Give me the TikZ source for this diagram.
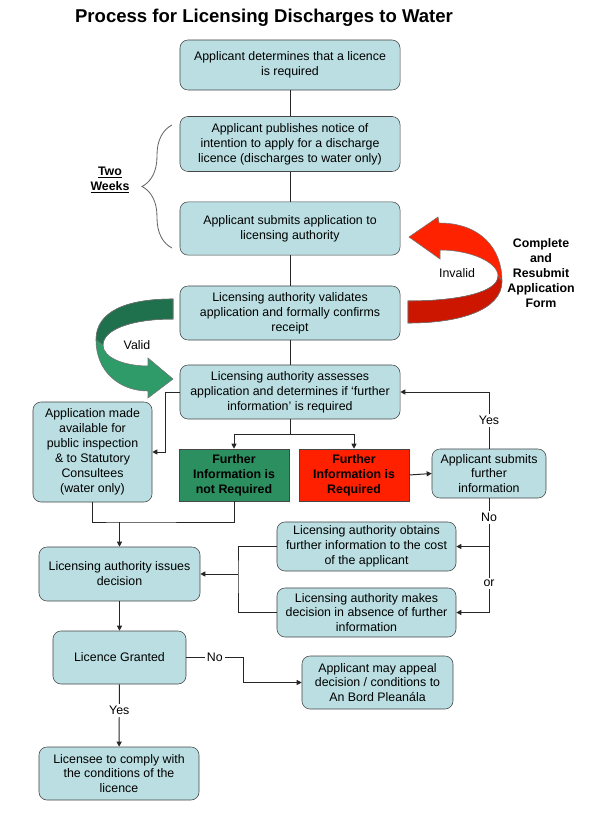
\documentclass[tikz,border=0pt]{standalone}
\usepackage{fontspec}
\setmainfont{Liberation Sans}
\usetikzlibrary{arrows.meta,decorations.pathreplacing}
\definecolor{boxfill}{RGB}{186,222,225}
\definecolor{boxline}{RGB}{70,70,70}
\definecolor{greenbox}{RGB}{44,143,96}
\definecolor{redbox}{RGB}{255,32,0}
\definecolor{greenlight}{RGB}{46,155,105}
\definecolor{greendark}{RGB}{31,112,76}
\definecolor{redlight}{RGB}{255,34,0}
\definecolor{reddark}{RGB}{204,22,0}
\newcommand{\boxfont}{\fontsize{8.8}{10.6}\selectfont}

\begin{document}
\begin{tikzpicture}[x=0.025cm,y=-0.025cm,
  procbox/.style={draw=boxline,fill=boxfill,rounded corners=0.2cm,align=center,inner sep=0pt,font=\boxfont},
  infobox/.style={draw=boxline,align=center,inner sep=0pt,font=\boxfont\bfseries},
  conn/.style={draw=black!85,line width=0.7pt},
  arr/.style={conn,-{Triangle[length=3.6pt,width=3.6pt]}},
  lbl/.style={fill=white,inner sep=1.5pt,font=\boxfont},
  ribbon/.style={draw=black!55,line width=0.4pt}]
\useasboundingbox (0,0) rectangle (602,820);

\node (title) at (264,18) {\fontsize{13.2}{15}\selectfont\bfseries Process for Licensing Discharges to Water};

\node[procbox,minimum width=5.5cm,minimum height=1.25cm] (appl) at (290,65) {Applicant determines that a licence\\is required};
\node[procbox,minimum width=5.5cm,minimum height=1.375cm] (notice) at (290,144) {Applicant publishes notice of\\intention to apply for a discharge\\licence (discharges to water only)};
\node[procbox,minimum width=5.5cm,minimum height=1.33cm] (submit) at (290,228.5) {Applicant submits application to\\licensing authority};
\node[procbox,minimum width=5.5cm,minimum height=1.35cm] (validate) at (290,313) {Licensing authority validates\\application and formally confirms\\receipt};
\node[procbox,minimum width=5.5cm,minimum height=1.35cm] (assess) at (290,392) {Licensing authority assesses\\application and determines if ‘further\\information’ is required};
\node[procbox,minimum width=2.975cm,minimum height=2.5cm] (inspect) at (92.5,452) {Application made\\available for\\public inspection\\\& to Statutory\\Consultees\\(water only)};
\node[infobox,fill=greenbox,minimum width=2.75cm,minimum height=1.3cm] (notreq) at (234,475) {Further\\Information is\\not Required};
\node[infobox,fill=redbox,minimum width=2.75cm,minimum height=1.3cm] (req) at (354,475) {Further\\Information is\\Required};
\node[procbox,minimum width=2.85cm,minimum height=1.225cm] (further) at (489,473.5) {Applicant submits\\further\\information};
\node[procbox,minimum width=4.475cm,minimum height=1.225cm] (obtain) at (366.5,546.5) {Licensing authority obtains\\further information to the cost\\of the applicant};
\node[procbox,minimum width=4.475cm,minimum height=1.225cm] (absence) at (366.5,612.5) {Licensing authority makes\\decision in absence of further\\information};
\node[procbox,minimum width=4.025cm,minimum height=1.35cm] (decision) at (119.5,574) {Licensing authority issues\\decision};
\node[procbox,minimum width=3.325cm,minimum height=1.325cm] (granted) at (119.5,657.5) {Licence Granted};
\node[procbox,minimum width=3.775cm,minimum height=1.325cm] (appeal) at (377.5,682.5) {Applicant may appeal\\decision / conditions to\\An Bord Pleanála};
\node[procbox,minimum width=4.0cm,minimum height=1.325cm] (comply) at (119,773.5) {Licensee to comply with\\the conditions of the\\licence};

\draw[decorate,decoration={brace,amplitude=0.75cm},draw=black!60,line width=0.6pt] (172,248) -- (172,125);
\node[align=center,font=\boxfont\bfseries] (weeks) at (110,180) {\underline{Two}\\\underline{Weeks}};

\fill[redlight,ribbon] (408,301) .. controls (460,301) and (498,292) .. (498,276) .. controls (498,262) and (470,250) .. (440,250) -- (440,259) -- (409,237) -- (438,217) -- (439,223) .. controls (480,223) and (502,248) .. (502,281) .. controls (502,310) and (460,323) .. (408,323) -- cycle;
\fill[reddark,ribbon] (408,301) .. controls (460,301) and (498,292) .. (498,276) -- (502,281) .. controls (502,310) and (460,323) .. (408,323) -- cycle;
\node[font=\boxfont] (invalid) at (457,273) {Invalid};
\node[align=center,font=\boxfont\bfseries] (resubmit) at (541,273) {Complete\\and\\Resubmit\\Application\\Form};

\fill[greenlight,ribbon] (173,299) .. controls (125,299) and (96,312) .. (96,340) .. controls (96,372) and (120,391) .. (148,391) -- (148,398) -- (173,379) -- (148,358) -- (148,366) .. controls (125,366) and (103,358) .. (103,345) .. controls (103,330) and (130,319) .. (173,319) -- cycle;
\fill[greendark,ribbon] (173,299) .. controls (125,299) and (96,312) .. (96,340) -- (103,345) .. controls (103,330) and (130,319) .. (173,319) -- cycle;
\node[font=\boxfont] (valid) at (137,345) {Valid};

\draw[conn] (appl) -- (notice);
\draw[conn] (notice) -- (submit);
\draw[conn] (submit) -- (validate);
\draw[conn] (validate) -- (assess);
\draw[arr] (assess.west) -- ++(-14,0) |- (inspect.east);
\coordinate (split) at (290,434);
\draw[conn] (assess.south) -- (split);
\draw[arr] (split) -| (notreq.north);
\draw[arr] (split) -| (req.north);
\draw[arr] (req.east) -- (further.west);
\draw[arr] (further.north) |- node[lbl,pos=0.25] {Yes} (assess.east);
\draw[arr] (further.south) |- (obtain.east);
\draw[arr] (further.south) |- node[lbl,pos=0.083] {No} node[lbl,pos=0.373] {or} (absence.east);
\coordinate (merge) at (238,574);
\draw[conn] (obtain.west) -| (merge) |- (absence.west);
\draw[arr] (merge) -- (decision.east);
\coordinate (join) at (119.5,522);
\draw[conn] (inspect.south) |- (join) -| (notreq.south);
\draw[arr] (join) -- (decision.north);
\draw[arr] (decision) -- (granted);
\draw[arr] (granted.east) -- node[lbl] {No} ++(57,0) |- (appeal.west);
\draw[arr] (granted) -- node[lbl,pos=0.42] {Yes} (comply);
\end{tikzpicture}
\end{document}
